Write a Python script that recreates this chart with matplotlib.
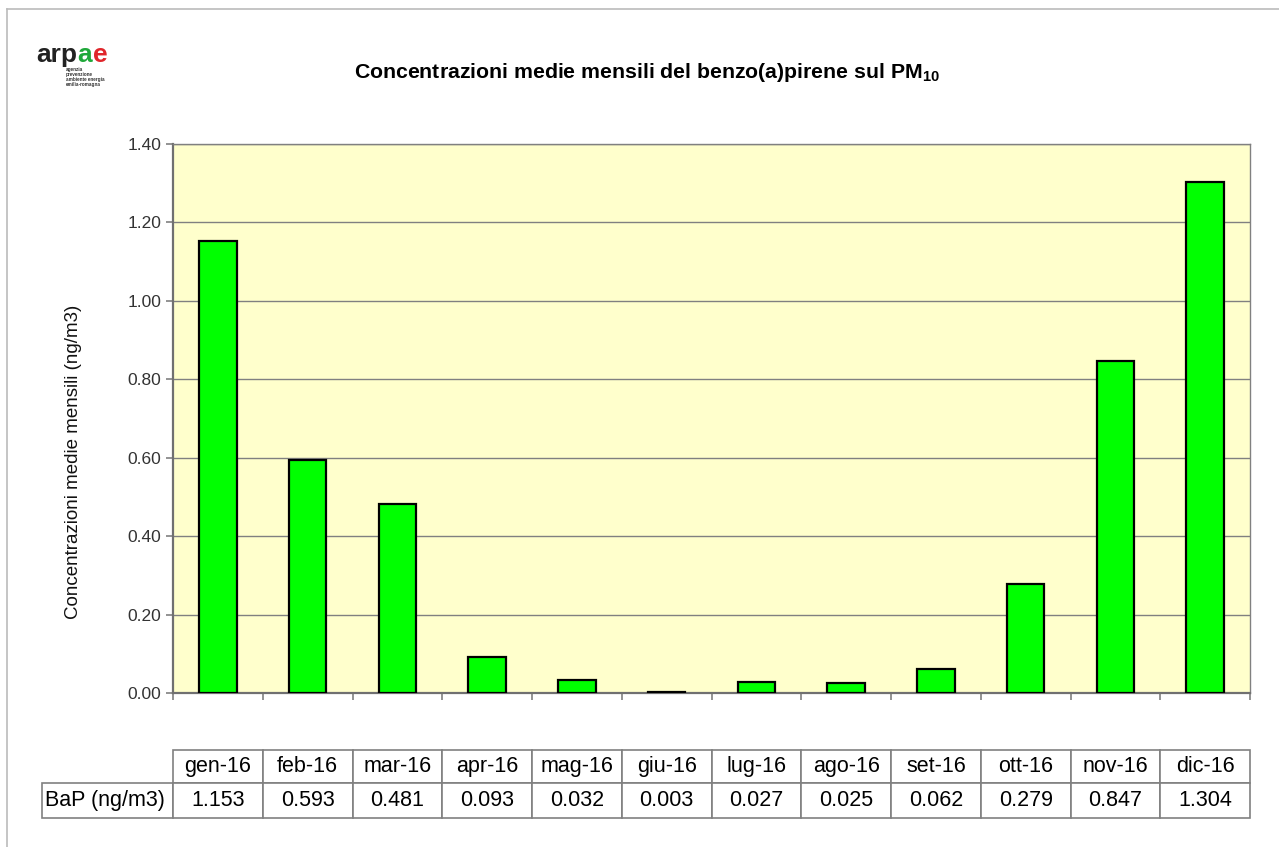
import numpy as np
import matplotlib.pyplot as plt
from matplotlib.table import Table
from matplotlib.lines import Line2D

plt.rcParams['font.family'] = ['Liberation Sans', 'DejaVu Sans']
plt.rcParams['mathtext.fontset'] = 'custom'
plt.rcParams['mathtext.rm'] = 'Liberation Sans'
plt.rcParams['mathtext.bf'] = 'Liberation Sans:bold'

# ====== dati ======
mesi = ['gen-16', 'feb-16', 'mar-16', 'apr-16', 'mag-16', 'giu-16',
        'lug-16', 'ago-16', 'set-16', 'ott-16', 'nov-16', 'dic-16']
bap = [1.153, 0.593, 0.481, 0.093, 0.032, 0.003,
       0.027, 0.025, 0.062, 0.279, 0.847, 1.304]
etichetta_riga = 'BaP (ng/m3)'
yticks = [0.0, 0.2, 0.4, 0.6, 0.8, 1.0, 1.2, 1.4]

W, H = 1279, 847
AX_L, AX_R, AX_T, AX_B = 173, 1250, 144, 693
AX_W, AX_H = AX_R - AX_L, AX_B - AX_T

fig = plt.figure(figsize=(W / 100, H / 100), dpi=100)
ax = fig.add_axes([AX_L / W, 1 - AX_B / H, AX_W / W, AX_H / H])

x = np.arange(len(mesi))
ax.set_facecolor('#FFFFCC')
ax.bar(x, bap, width=0.42, color='#00FF00', edgecolor='black', linewidth=1.6, zorder=3)

ax.set_xlim(-0.5, len(mesi) - 0.5)
ax.set_ylim(0, 1.4)
ax.set_yticks(yticks)
ax.set_yticklabels([f'{v:.2f}' for v in yticks], fontsize=12.5, color='#333333')
ax.set_xticks(np.arange(-0.5, len(mesi), 1.0))
ax.set_xticklabels([])
ax.tick_params(axis='both', direction='out', length=5, width=1.2, color='#808080')
ax.grid(axis='y', color='#808080', linewidth=1.0, zorder=1)
for s in ['top', 'right']:
    ax.spines[s].set_color('#808080')
    ax.spines[s].set_linewidth(1.0)
for s in ['left', 'bottom']:
    ax.spines[s].set_color('#707070')
    ax.spines[s].set_linewidth(1.6)

fig.text(74 / W, 1 - 462 / H, 'Concentrazioni medie mensili (ng/m3)', rotation=90,
         ha='center', va='center', fontsize=13.5, color='#111111')

fig.text(647 / W, 1 - 73 / H, 'Concentrazioni medie mensili del benzo(a)pirene sul PM$_{\\mathbf{10}}$',
         ha='center', va='center', fontsize=15.3, fontweight='bold')

# ====== tabella dati ======
lab_w = (AX_L - 42) / AX_W
col_w = 1 / len(mesi)
h1, h2 = 33 / AX_H, 35 / AX_H
tab = Table(ax, bbox=[0, (AX_B - 818) / AX_H, 1, h1 + h2])
for j, m in enumerate(mesi):
    tab.add_cell(0, j, width=col_w, height=h1, text=m, loc='center', edgecolor='#808080')
    tab.add_cell(1, j, width=col_w, height=h2, text=f'{bap[j]:.3f}', loc='center', edgecolor='#808080')
tab.add_cell(1, -1, width=lab_w, height=h2, text=etichetta_riga, loc='left', edgecolor='#808080')
tab.auto_set_font_size(False)
tab.set_fontsize(15.5)
for cell in tab.get_celld().values():
    cell.set_linewidth(1.2)
    cell.PAD = 0.02
ax.add_table(tab)

# ====== logo ======
t1 = fig.text(36 / W, 1 - 62 / H, 'arp', fontsize=19, fontweight='bold', color='#222222',
              va='baseline', ha='left')
ax.annotate('a', xy=(1, 0), xycoords=t1, va='bottom', ha='left',
            fontsize=19, fontweight='bold', color='#1FA83A', annotation_clip=False)
ax.annotate('e', xy=(1, 0), xycoords=t1, xytext=(11.5, 0), textcoords='offset points',
            va='bottom', ha='left', fontsize=19, fontweight='bold', color='#E0262B',
            annotation_clip=False)
fig.text(66 / W, 1 - 67 / H, 'agenzia\nprevenzione\nambiente energia\nemilia-romagna',
         fontsize=3.3, fontweight='bold', color='#333333', va='top', ha='left', linespacing=1.0)

# cornice
fig.add_artist(Line2D([7 / W, 7 / W], [0, 1 - 9 / H], color='#BBBBBB', linewidth=1.2))
fig.add_artist(Line2D([7 / W, 1], [1 - 9 / H, 1 - 9 / H], color='#BBBBBB', linewidth=1.2))

fig.savefig('out.png', dpi=100)
